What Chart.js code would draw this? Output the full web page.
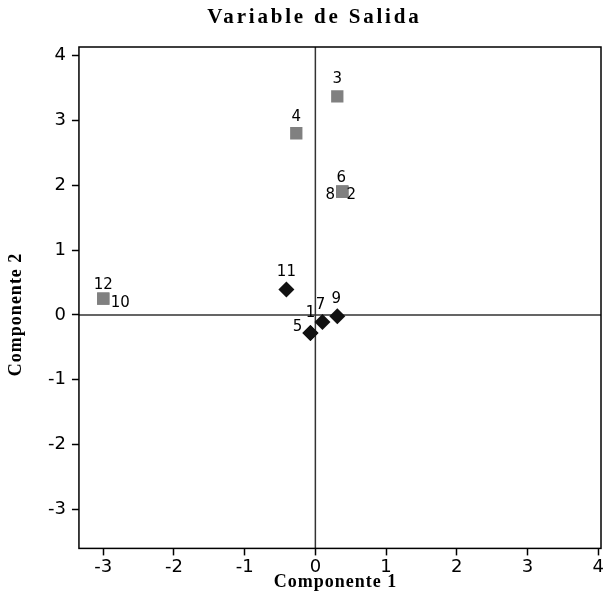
<!DOCTYPE html>
<html>
<head>
<meta charset="utf-8">
<script src="https://cdn.jsdelivr.net/npm/chart.js@4"></script>
<style>
  html, body { margin: 0; padding: 0; background: #fff; }
  canvas { display: block; }
</style>
</head>
<body>
<canvas id="chartScores" width="603" height="598"></canvas>
<script>
// observaciones 1..12, coordenadas
const grayIds = ['2', '3', '4', '6', '8', '10', '12'];
const grayX = [0.38, 0.31, -0.27, 0.38, 0.38, -3.0, -3.0];
const grayY = [1.90, 3.37, 2.80, 1.90, 1.90, 0.25, 0.25];

const blackIds = ['1', '5', '7', '9', '11'];
const blackX = [-0.07, -0.07, 0.10, 0.31, -0.41];
const blackY = [-0.28, -0.28, -0.11, -0.02, 0.39];

const xTicks = [-3, -2, -1, 0, 1, 2, 3, 4];
const yTicks = [-3, -2, -1, 0, 1, 2, 3, 4];

const chartTitle = 'Variable de Salida';
const xTitle = 'Componente 1';
const yTitle = 'Componente 2';

// desplazamiento de cada etiqueta respecto a su punto (px)
const labelOffset = {
  '1': [0, -20], '2': [9, 3], '3': [0, -17], '4': [0, -16], '5': [-13, -6],
  '6': [-1, -14], '7': [-2, -17], '8': [-12, 3], '9': [-1, -17],
  '10': [17, 4], '11': [0, -17], '12': [0, -14],
};

const toPoints = (xs, ys, ids) => xs.map((x, i) => ({ x, y: ys[i], id: ids[i] }));

const serif = '"Liberation Serif", "Times New Roman", serif';

function spacedText(ctx, text, x, y, font, spacing) {
  ctx.font = font;
  if ('letterSpacing' in ctx) ctx.letterSpacing = spacing + 'px';
  ctx.fillText(text, x + spacing / 2, y);
  if ('letterSpacing' in ctx) ctx.letterSpacing = '0px';
}

const frame = {
  id: 'frame',
  beforeDatasetsDraw(chart) {
    const { ctx, chartArea: a, scales } = chart;
    const x0 = scales.x.getPixelForValue(0);
    const y0 = scales.y.getPixelForValue(0);
    ctx.save();
    ctx.strokeStyle = '#333';
    ctx.lineWidth = 1.5;
    ctx.beginPath();
    ctx.moveTo(x0, a.top); ctx.lineTo(x0, a.bottom);
    ctx.moveTo(a.left, y0); ctx.lineTo(a.right, y0);
    ctx.stroke();
    ctx.strokeStyle = '#000';
    ctx.strokeRect(a.left, a.top, a.right - a.left, a.bottom - a.top);
    ctx.restore();
  },
  afterDatasetsDraw(chart) {
    const { ctx } = chart;
    ctx.save();
    ctx.font = '15px "DejaVu Sans", sans-serif';
    ctx.fillStyle = '#000';
    ctx.textAlign = 'center';
    ctx.textBaseline = 'middle';
    chart.data.datasets.forEach((ds, di) => {
      chart.getDatasetMeta(di).data.forEach((el, i) => {
        const id = ds.data[i].id;
        const off = labelOffset[id] || [0, -16];
        ctx.fillText(id, el.x + off[0], el.y + off[1]);
      });
    });
    ctx.restore();
  },
  afterDraw(chart) {
    const { ctx, scales } = chart;
    ctx.save();
    ctx.fillStyle = '#000';
    ctx.textAlign = 'center';
    ctx.textBaseline = 'middle';
    spacedText(ctx, chartTitle, 313, 18, 'bold 21px ' + serif, 2.8);
    spacedText(ctx, xTitle, 335, 582, 'bold 18px ' + serif, 1);
    ctx.translate(16, scales.y.getPixelForValue(0));
    ctx.rotate(-Math.PI / 2);
    spacedText(ctx, yTitle, 0, 0, 'bold 18px ' + serif, 1);
    ctx.restore();
  },
};

const tickFont = { family: '"DejaVu Sans", sans-serif', size: 18 };

new Chart(document.getElementById('chartScores'), {
  type: 'scatter',
  data: {
    datasets: [
      { data: toPoints(grayX, grayY, grayIds), pointStyle: 'rect', pointRadius: 8.7, backgroundColor: '#808080', borderWidth: 0 },
      { data: toPoints(blackX, blackY, blackIds), pointStyle: 'rectRot', pointRadius: 8, backgroundColor: '#111', borderWidth: 0 },
    ],
  },
  options: {
    responsive: false,
    animation: false,
    layout: { autoPadding: false, padding: { top: 47, right: 2, left: 42, bottom: 19 } },
    plugins: {
      legend: { display: false },
      tooltip: { enabled: false },
    },
    scales: {
      x: {
        min: -3.344, max: 4.04,
        afterBuildTicks: (s) => { s.ticks = xTicks.map((v) => ({ value: v })); },
        afterFit: (s) => { s.paddingLeft = 0; s.paddingRight = 0; },
        grid: { drawOnChartArea: false, color: '#000', tickLength: 7, tickWidth: 1.5 },
        border: { display: false },
        ticks: { color: '#000', font: tickFont, padding: 1, maxRotation: 0 },
      },
      y: {
        min: -3.6, max: 4.13,
        afterBuildTicks: (s) => { s.ticks = yTicks.map((v) => ({ value: v })); },
        afterFit: (s) => { s.paddingTop = 0; s.paddingBottom = 0; },
        grid: { drawOnChartArea: false, color: '#000', tickLength: 7, tickWidth: 1.5 },
        border: { display: false },
        ticks: { color: '#000', font: tickFont, padding: 6 },
      },
    },
  },
  plugins: [frame],
});
</script>
</body>
</html>
